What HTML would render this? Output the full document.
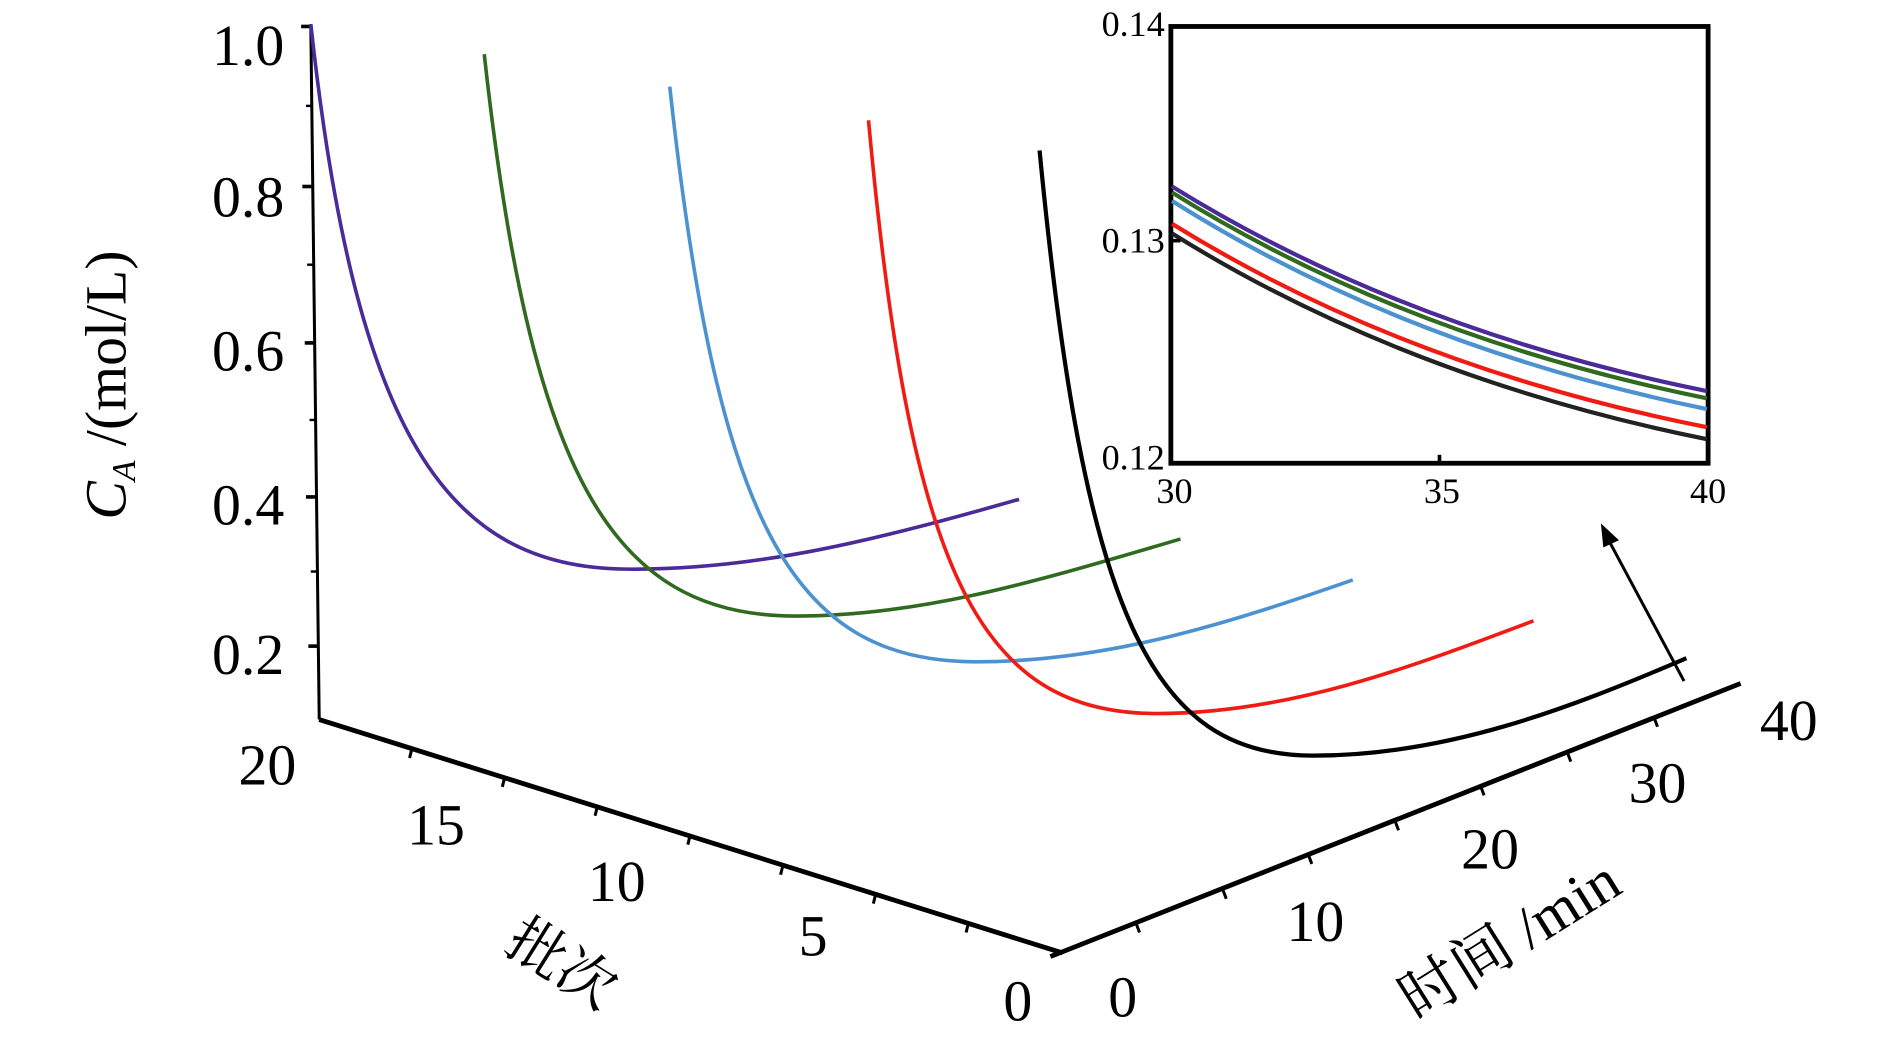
<!DOCTYPE html>
<html><head><meta charset="utf-8"><style>html,body{margin:0;padding:0;background:#fff;overflow:hidden}svg{display:block}</style></head>
<body>
<svg width="1890" height="1042" viewBox="0 0 1569 866" preserveAspectRatio="none" xmlns="http://www.w3.org/2000/svg" font-family="'Liberation Serif','Noto Serif CJK SC',serif">
<!-- vertical axis -->
<line x1="258" y1="20" x2="265" y2="598" stroke="#000" stroke-width="2.5"/>
<g stroke="#000" stroke-width="3">
<line x1="250" y1="22" x2="258" y2="22"/><line x1="251" y1="155" x2="260" y2="155"/><line x1="253" y1="285" x2="261" y2="285"/><line x1="254" y1="413" x2="263" y2="413"/><line x1="256" y1="537" x2="264" y2="537"/>
</g>
<g stroke="#000" stroke-width="2">
<line x1="254" y1="88" x2="259" y2="88"/><line x1="255" y1="220" x2="260" y2="220"/><line x1="257" y1="349" x2="262" y2="349"/><line x1="258" y1="475" x2="263" y2="475"/>
</g>
<g font-size="48" text-anchor="end">
<text x="236" y="54">1.0</text><text x="236" y="180">0.8</text><text x="236" y="308">0.6</text><text x="236" y="436">0.4</text><text x="236" y="560">0.2</text>
</g>
<text transform="translate(104,320) rotate(-90)" font-size="48" text-anchor="middle"><tspan font-style="italic">C</tspan><tspan font-size="28" font-style="italic" dy="8">A</tspan><tspan dy="-8"> /(mol/L)</tspan></text>
<!-- batch axis -->
<line x1="265" y1="598" x2="882" y2="792" stroke="#000" stroke-width="4"/>
<g stroke="#000" stroke-width="2.5">
<line x1="342" y1="622" x2="340" y2="630"/><line x1="419" y1="646" x2="417" y2="654"/><line x1="496" y1="670" x2="494" y2="678"/><line x1="573" y1="694" x2="571" y2="702"/><line x1="650" y1="719" x2="648" y2="727"/><line x1="727" y1="743" x2="725" y2="751"/><line x1="804" y1="767" x2="802" y2="775"/>
</g>
<g font-size="48" text-anchor="middle">
<text x="222" y="652">20</text><text x="362" y="702">15</text><text x="512" y="749">10</text><text x="675" y="794">5</text><text x="845" y="848">0</text>
<text x="932" y="845">0</text><text x="1092" y="782">10</text><text x="1237" y="722">20</text><text x="1376" y="667">30</text><text x="1485" y="615">40</text>
</g>
<text transform="translate(458,815) rotate(32)" font-size="48" text-anchor="middle" font-family="'Noto Serif CJK SC','Noto Sans CJK SC',serif">批次</text>
<text transform="translate(1262,795) rotate(-32)" font-size="50" text-anchor="middle"><tspan font-family="'Noto Serif CJK SC','Noto Sans CJK SC',serif">时间</tspan> /min</text>
<!-- time axis -->
<line x1="872" y1="795" x2="1445" y2="568" stroke="#000" stroke-width="4"/>
<g stroke="#000" stroke-width="2.5">
<line x1="943" y1="767" x2="946" y2="775"/><line x1="1015" y1="739" x2="1018" y2="747"/><line x1="1086" y1="710" x2="1089" y2="718"/><line x1="1158" y1="682" x2="1161" y2="690"/><line x1="1229" y1="653" x2="1232" y2="661"/><line x1="1301" y1="625" x2="1304" y2="633"/><line x1="1373" y1="596" x2="1376" y2="604"/>
</g>
<!-- curves -->
<g fill="none" stroke-width="3">
<path d="M258,20 C295,360 370,472 520,473 C630,474 730,448 846,415" stroke="#4b2a9a"/>
<path d="M402,45 C440,390 505,512 660,512 C770,512 870,480 980,448" stroke="#2f6a1f"/>
<path d="M556,72 C595,430 655,550 810,550 C920,550 1020,518 1123,482" stroke="#4d92d0"/>
<path d="M721,100 C755,470 810,593 960,593 C1070,593 1170,555 1273,516" stroke="#f01b12"/>
<path d="M863,125 C900,510 955,628 1090,628 C1200,628 1300,590 1400,547" stroke="#000" stroke-width="3.5"/>
</g>
<!-- arrow -->
<line x1="1398" y1="566" x2="1336" y2="450" stroke="#000" stroke-width="2.5"/>
<polygon points="1329,435 1344,449 1331,455" fill="#000"/>
<!-- inset -->
<rect x="972" y="22" width="446" height="363" fill="#fff" stroke="#000" stroke-width="4"/>
<g fill="none" stroke-width="3.5">
<path d="M973,155 Q1165,274 1417,325" stroke="#4b2a9a"/>
<path d="M973,160 Q1165,280 1417,331" stroke="#2f6a1f"/>
<path d="M973,167 Q1165,288 1417,340" stroke="#4d92d0"/>
<path d="M973,186 Q1165,305 1417,355" stroke="#f01b12"/>
<path d="M973,194 Q1165,314 1417,365" stroke="#222"/>
</g>
<g stroke="#000" stroke-width="3"><line x1="1195" y1="385" x2="1195" y2="378"/><line x1="973" y1="200" x2="980" y2="200"/></g>
<g font-size="30" text-anchor="end">
<text x="967" y="30">0.14</text><text x="967" y="210">0.13</text><text x="967" y="390">0.12</text>
</g>
<g font-size="30" text-anchor="middle">
<text x="975" y="418">30</text><text x="1197" y="418">35</text><text x="1418" y="418">40</text>
</g>
</svg>
</body></html>
